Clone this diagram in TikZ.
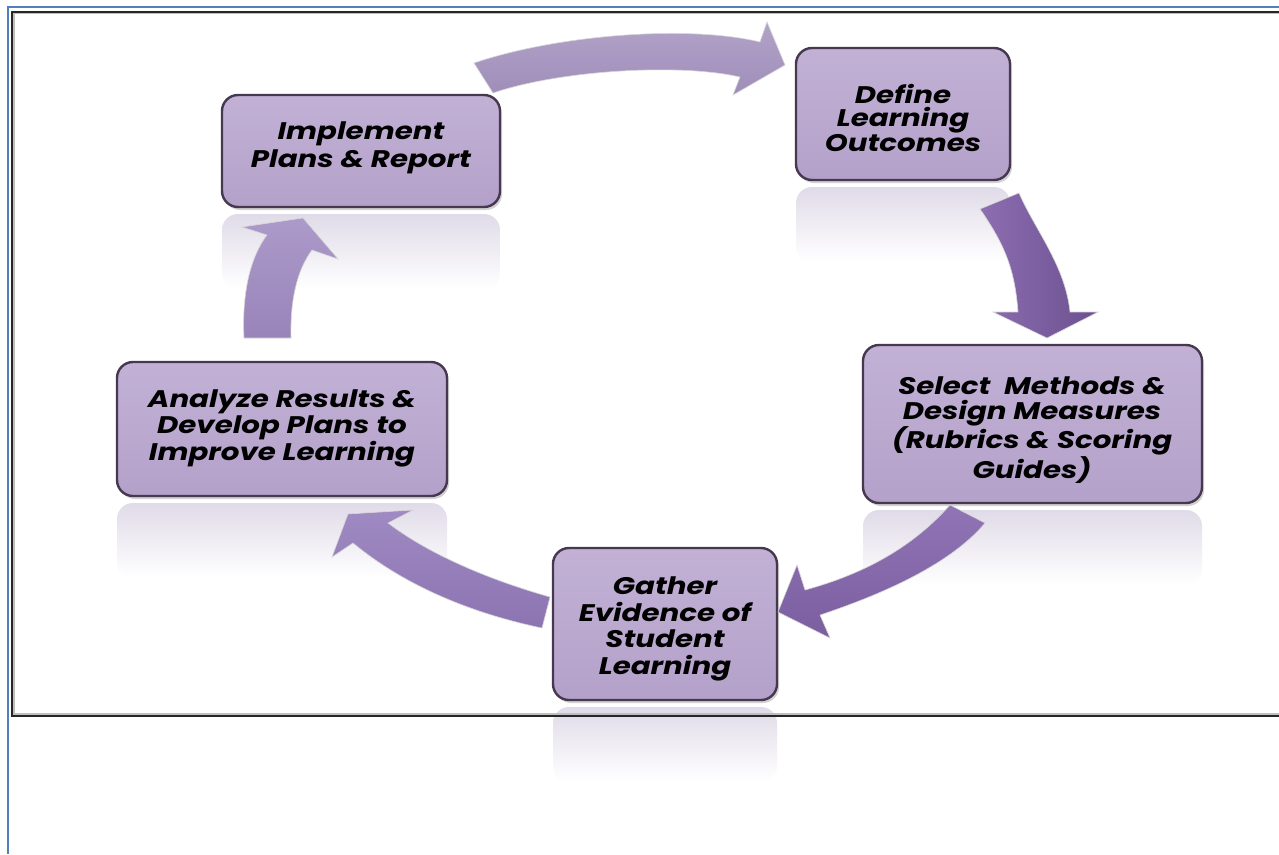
\documentclass[tikz,border=0pt]{standalone}
\usepackage{fontspec}
\newfontfamily\boxfont{Poppins}[FakeStretch=1.22]
\usetikzlibrary{shadows,calc}
\definecolor{boxtop}{HTML}{C2B1D5}
\definecolor{boxbot}{HTML}{B4A1CA}
\definecolor{boxedge}{HTML}{45384F}
\definecolor{refl}{HTML}{E0DBE8}
\definecolor{frameblue}{HTML}{4F81BD}
\definecolor{arAt}{HTML}{B2A3C9}
\definecolor{arAb}{HTML}{9F8DB9}
\definecolor{arBt}{HTML}{8C6EB1}
\definecolor{arBb}{HTML}{6C508F}
\definecolor{arCt}{HTML}{9174B6}
\definecolor{arCb}{HTML}{7A5E9F}
\definecolor{arDt}{HTML}{A08AC3}
\definecolor{arDb}{HTML}{8B74B1}
\definecolor{arEt}{HTML}{AC9ACA}
\definecolor{arEb}{HTML}{9984B9}
\tikzset{
  stepbox/.style={rectangle, rounded corners=16pt, draw=boxedge, line width=2.4pt,
    top color=boxtop, bottom color=boxbot, inner sep=0pt,
    drop shadow={shadow xshift=2pt, shadow yshift=-3pt, opacity=0.35}},
  steptext/.style={align=center, text=black, inner sep=0pt,
    font=\boxfont\bfseries\itshape\fontsize{24}{26.5}\selectfont},
  reflbox/.style={top color=refl, bottom color=white, rounded corners=16pt},
  blockarrow/.style={draw=white!60!black!40, line width=0.6pt}
}
\begin{document}
\begin{tikzpicture}[x=1pt,y=-1pt]
\useasboundingbox (0,0) rectangle (1279,854);
\fill[white] (0,0) rectangle (1279,854);

% boxes (positions)
\coordinate (cImpl) at (361,151);
\coordinate (cDef) at (903,114);
\coordinate (cSel) at (1032.5,424);
\coordinate (cGat) at (665,624);
\coordinate (cAna) at (282,429);

% reflections
\foreach \c/\w/\h in {cImpl/278/112, cDef/214/132, cSel/339/158, cGat/224/152, cAna/330/134}{
  \path[reflbox] ($(\c)+(-\w/2,\h/2+7)$) rectangle ($(\c)+(\w/2,\h/2+82)$);
}

% boxes
\node[stepbox, minimum width=278pt, minimum height=112pt] (impl) at (cImpl) {};
\node[stepbox, minimum width=214pt, minimum height=132pt] (def) at (cDef) {};
\node[stepbox, minimum width=339pt, minimum height=158pt] (sel) at (cSel) {};
\node[stepbox, minimum width=224pt, minimum height=152pt] (gat) at (cGat) {};
\node[stepbox, minimum width=330pt, minimum height=134pt] (ana) at (cAna) {};

% texts
\node[steptext, font=\boxfont\bfseries\itshape\fontsize{24}{27.5}\selectfont] (implT) at (361,148) {Implement\\Plans \& Report};
\node[steptext, font=\boxfont\bfseries\itshape\fontsize{24}{23.5}\selectfont] (defT) at (903,118) {Define\\Learning\\Outcomes};
\node[steptext, font=\boxfont\bfseries\itshape\fontsize{24}{24.5}\selectfont] (selT) at (1032,430) {Select \ Methods \&\\Design Measures\\(Rubrics \& Scoring\\Guides)};
\node[steptext] (gatT) at (665,629) {Gather\\Evidence of\\Student\\Learning};
\node[steptext] (anaT) at (282,428) {Analyze Results \&\\Develop Plans to\\Improve Learning};

% arrow A: Implement -> Define
\coordinate (a1) at (474,63);
\coordinate (a2) at (760,42);
\coordinate (a3) at (767,22);
\coordinate (a4) at (785,65);
\coordinate (a5) at (733,95);
\coordinate (a6) at (740,77);
\coordinate (a7) at (493,93);
\shade[blockarrow, top color=arAt, bottom color=arAb]
  (a1) .. controls (560,34) and (690,25) .. (a2) -- (a3) -- (a4) -- (a5) -- (a6)
  .. controls (680,63) and (560,70) .. (a7) -- cycle;

% arrow B: Define -> Select
\coordinate (b1) at (1019,193);
\coordinate (b2) at (1070,312);
\coordinate (b3) at (1098,312);
\coordinate (b4) at (1047,338);
\coordinate (b5) at (993,312);
\coordinate (b6) at (1018,312);
\coordinate (b7) at (980,209);
\shade[blockarrow, left color=arBt, right color=arBb]
  (b1) .. controls (1035,230) and (1065,265) .. (b2) -- (b3) -- (b4) -- (b5) -- (b6)
  .. controls (1015,270) and (1005,245) .. (b7) -- cycle;

% arrow C: Select -> Gather
\coordinate (c1) at (950,505);
\coordinate (c2) at (805,590);
\coordinate (c3) at (797,565);
\coordinate (c4) at (778,612);
\coordinate (c5) at (830,638);
\coordinate (c6) at (820,615);
\coordinate (c7) at (985,523);
\shade[blockarrow, top color=arCt, bottom color=arCb]
  (c1) .. controls (910,550) and (860,575) .. (c2) -- (c3) -- (c4) -- (c5) -- (c6)
  .. controls (880,595) and (950,565) .. (c7) -- cycle;

% arrow D: Gather -> Analyze
\coordinate (d1) at (550,597);
\coordinate (d2) at (388,523);
\coordinate (d3) at (413,510);
\coordinate (d4) at (348,514);
\coordinate (d5) at (332,557);
\coordinate (d6) at (353,543);
\coordinate (d7) at (542,628);
\shade[blockarrow, top color=arDt, bottom color=arDb]
  (d1) .. controls (490,580) and (430,555) .. (d2) -- (d3) -- (d4) -- (d5) -- (d6)
  .. controls (410,590) and (480,615) .. (d7) -- cycle;

% arrow E: Analyze -> Implement
\coordinate (e1) at (244,338);
\coordinate (e2) at (267,235);
\coordinate (e3) at (242,227);
\coordinate (e4) at (303,218);
\coordinate (e5) at (338,259);
\coordinate (e6) at (312,250);
\coordinate (e7) at (291,338);
\shade[blockarrow, top color=arEt, bottom color=arEb]
  (e1) .. controls (242,300) and (248,260) .. (e2) -- (e3) -- (e4) -- (e5) -- (e6)
  .. controls (297,270) and (290,300) .. (e7) -- cycle;

% frames
\coordinate (fb1) at (8,854);
\coordinate (fb2) at (8,7);
\coordinate (fb3) at (1279,7);
\draw[frameblue, line width=2pt] (fb1) -- (fb2) -- (fb3);
\coordinate (fk1) at (1279,11.5);
\coordinate (fk2) at (12,11.5);
\coordinate (fk3) at (12,716);
\coordinate (fk4) at (1279,716);
\draw[black!25, line width=1.5pt] ($(fk1)+(0,2)$) -- ($(fk2)+(2,2)$) -- ($(fk3)+(2,-2)$) -- ($(fk4)+(0,-2)$);
\draw[black!85, line width=2pt] (fk1) -- (fk2) -- (fk3) -- (fk4);
\end{tikzpicture}
\end{document}
